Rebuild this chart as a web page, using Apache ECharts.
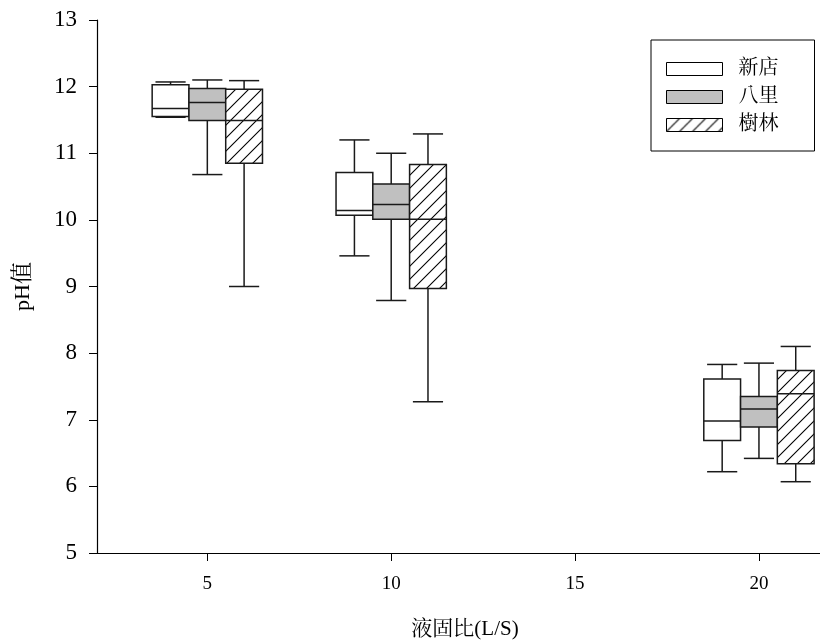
<!DOCTYPE html>
<html>
<head>
<meta charset="utf-8">
<script src="https://cdn.jsdelivr.net/npm/echarts@6/dist/echarts.min.js"></script>
<style>
html,body{margin:0;padding:0;background:#fff;overflow:hidden;}
#chart{width:820px;height:641px;}
</style>
</head>
<body>
<div id="chart"></div>
<script>
// ---- data ----
const ratios = [5, 10, 20];                 // 液固比 L/S
const xTickValues = [5, 10, 15, 20];
const seriesNames = ['新店', '八里', '樹林'];
// [low whisker, Q1, median, Q3, high whisker]
const xindian = [
  [11.54, 11.55, 11.67, 12.03, 12.07],
  [9.46, 10.07, 10.14, 10.71, 11.20],
  [6.22, 6.69, 6.98, 7.61, 7.83]
];
const bali = [
  [10.68, 11.49, 11.76, 11.97, 12.10],
  [8.79, 10.01, 10.23, 10.54, 11.00],
  [6.42, 6.89, 7.16, 7.35, 7.85]
];
const shulin = [
  [9.00, 10.85, 11.49, 11.96, 12.09],
  [7.27, 8.97, 10.01, 10.83, 11.29],
  [6.07, 6.34, 7.39, 7.74, 8.10]
];

// ---- styling ----
const serif = "'Liberation Serif', 'Noto Serif CJK TC', 'Noto Sans CJK TC', serif";
const lineColor = '#1a1a1a';

function makeHatch() {
  const s = 13;
  const c = document.createElement('canvas');
  c.width = s; c.height = s;
  const g = c.getContext('2d');
  g.fillStyle = '#fff';
  g.fillRect(0, 0, s, s);
  g.strokeStyle = '#000';
  g.lineWidth = 1.1;
  g.beginPath();
  g.moveTo(-1, s + 1); g.lineTo(s + 1, -1);
  g.moveTo(-2, 2); g.lineTo(2, -2);
  g.moveTo(s - 2, s + 2); g.lineTo(s + 2, s - 2);
  g.stroke();
  return { image: c, repeat: 'repeat' };
}
const hatch = makeHatch();
const fills = ['#ffffff', '#c0c0c0', hatch];
const offsets = [-1, 0, 1];
const groups = [xindian, bali, shulin];

function makeRender(idx) {
  return function (params, api) {
    const x = api.value(0) + offsets[idx];
    const low = api.value(1), q1 = api.value(2), med = api.value(3),
          q3 = api.value(4), high = api.value(5);
    const tl = api.coord([x - 0.5, q3]);
    const br = api.coord([x + 0.5, q1]);
    const cL = api.coord([x - 0.41, high]);
    const cR = api.coord([x + 0.41, low]);
    const c = api.coord([x, med]);
    const pHigh = api.coord([x, high]);
    const pLow = api.coord([x, low]);
    const ls = { stroke: lineColor, lineWidth: 1.5, fill: null };
    return {
      type: 'group',
      children: [
        { type: 'line', shape: { x1: c[0], y1: pHigh[1], x2: c[0], y2: tl[1] }, style: ls },
        { type: 'line', shape: { x1: c[0], y1: br[1], x2: c[0], y2: pLow[1] }, style: ls },
        { type: 'line', shape: { x1: cL[0], y1: pHigh[1], x2: cR[0], y2: pHigh[1] }, style: ls },
        { type: 'line', shape: { x1: cL[0], y1: pLow[1], x2: cR[0], y2: pLow[1] }, style: ls },
        { type: 'rect', shape: { x: tl[0], y: tl[1], width: br[0] - tl[0], height: br[1] - tl[1] },
          style: { fill: fills[idx], stroke: lineColor, lineWidth: 1.5 } },
        { type: 'line', shape: { x1: tl[0], y1: c[1], x2: br[0], y2: c[1] }, style: ls }
      ]
    };
  };
}

const series = groups.map((g, i) => ({
  name: seriesNames[i],
  type: 'custom',
  renderItem: makeRender(i),
  encode: { x: 0, y: [1, 2, 3, 4, 5] },
  itemStyle: { color: fills[i], borderColor: lineColor, borderWidth: 1 },
  data: ratios.map((r, k) => [r].concat(g[k])),
  z: 2
}));

const chart = echarts.init(document.getElementById('chart'));
chart.setOption({
  animation: false,
  backgroundColor: '#fff',
  grid: { left: 97, right: 0, top: 20, bottom: 88, containLabel: false, outerBoundsMode: 'none' },
  legend: {
    orient: 'vertical',
    left: 651, top: 40,
    padding: [19, 36, 16, 15],
    itemWidth: 56, itemHeight: 13, itemGap: 8,
    borderColor: '#000', borderWidth: 1,
    icon: 'rect',
    textStyle: { fontFamily: serif, fontSize: 20, color: '#000', lineHeight: 20, padding: [0, 0, 0, 11] },
    data: seriesNames.map((n, i) => ({
      name: n,
      itemStyle: { color: fills[i], borderColor: '#000', borderWidth: 1 }
    }))
  },
  xAxis: {
    type: 'value',
    min: 2, max: 21.66,
    name: '液固比(L/S)',
    nameLocation: 'middle',
    nameGap: 66,
    nameTextStyle: { fontFamily: serif, fontSize: 21, color: '#000', padding: [0, 0, 0, 13] },
    axisLine: { lineStyle: { color: '#000', width: 1.2 } },
    axisTick: { show: true, inside: false, length: 8, customValues: xTickValues, lineStyle: { color: '#000' } },
    axisLabel: { customValues: xTickValues, fontFamily: serif, fontSize: 19, color: '#000', margin: 22 },
    splitLine: { show: false }
  },
  yAxis: {
    type: 'value',
    min: 5, max: 13, interval: 1,
    name: 'pH值',
    nameLocation: 'middle',
    nameGap: 63,
    nameRotate: 90,
    nameTextStyle: { fontFamily: serif, fontSize: 22, color: '#000' },
    axisLine: { show: true, lineStyle: { color: '#000', width: 1.2 } },
    axisTick: { show: true, inside: false, length: 8, lineStyle: { color: '#000' } },
    axisLabel: { fontFamily: serif, fontSize: 23, color: '#000', margin: 20 },
    splitLine: { show: false }
  },
  series: series
});
</script>
</body>
</html>
